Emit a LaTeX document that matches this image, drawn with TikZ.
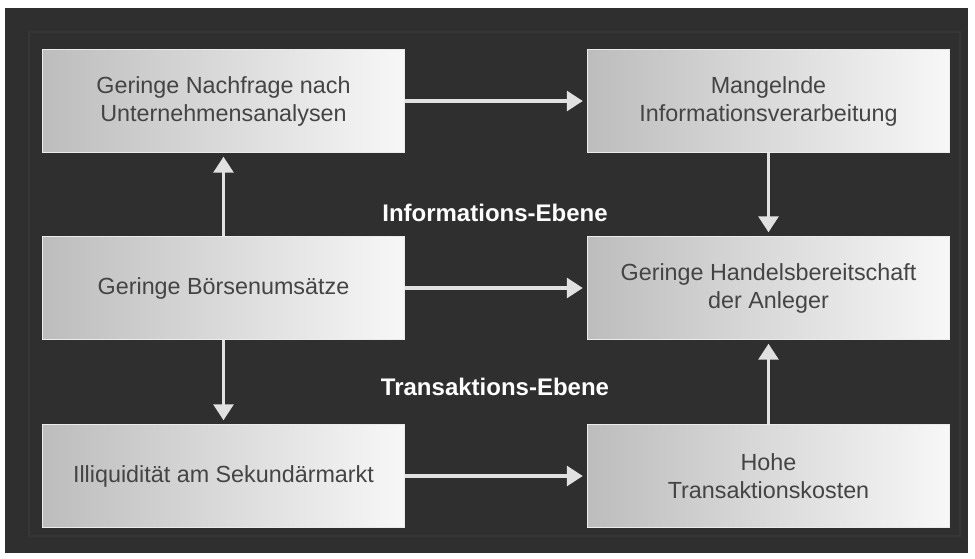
\documentclass[tikz,border=0pt]{standalone}
\usepackage{fontspec}
\setsansfont{Liberation Sans}
\usepackage{tikz}
\usetikzlibrary{arrows.meta}
\definecolor{bgdark}{RGB}{47,47,47}
\definecolor{frameline}{RGB}{54,54,54}
\definecolor{boxtext}{RGB}{68,68,68}
\definecolor{arrowgray}{RGB}{225,225,225}

\begin{document}
\begin{tikzpicture}[x=0.75pt,y=-0.75pt,font=\sffamily,
   box/.style={rectangle,draw=black!8,line width=0.6pt,left color=black!26,right color=black!3,
      text=boxtext,font=\sffamily\fontsize{17.5}{21}\selectfont,align=center,
      minimum width=272pt,minimum height=77pt,inner sep=0pt},
   lvl/.style={text=white,font=\sffamily\bfseries\fontsize{18}{21}\selectfont},
   arr/.style={draw=arrowgray,line width=2.3pt,-{Triangle[width=15pt,length=12pt]},shorten >=3pt}]
\useasboundingbox (0,0) rectangle (975,558);
\fill[bgdark] (5,8) rectangle (968,553);
\draw[frameline,line width=1pt] (29,32) rectangle (960,536);
% Kaestchen
\node[box] (nachfrage) at (223.5,101) {Geringe Nachfrage nach\\Unternehmensanalysen};
\node[box] (verarb) at (768.5,101) {Mangelnde\\Informationsverarbeitung};
\node[box] (umsatz) at (223.5,288) {Geringe B\"orsenums\"atze};
\node[box] (bereit) at (768.5,288) {Geringe Handelsbereitschaft\\der Anleger};
\node[box] (illiq) at (223.5,476) {Illiquidit\"at am Sekund\"armarkt};
\node[box] (kosten) at (768.5,476) {Hohe\\Transaktionskosten};
% Ebenen
\node[lvl] (info) at (495,213) {Informations-Ebene};
\node[lvl] (trans) at (495,387) {Transaktions-Ebene};
% Pfeile
\foreach \a/\b in {umsatz/nachfrage,nachfrage/verarb,verarb/bereit,umsatz/bereit,umsatz/illiq,illiq/kosten,kosten/bereit} {
   \draw[arr] (\a) -- (\b);
}
\end{tikzpicture}
\end{document}
